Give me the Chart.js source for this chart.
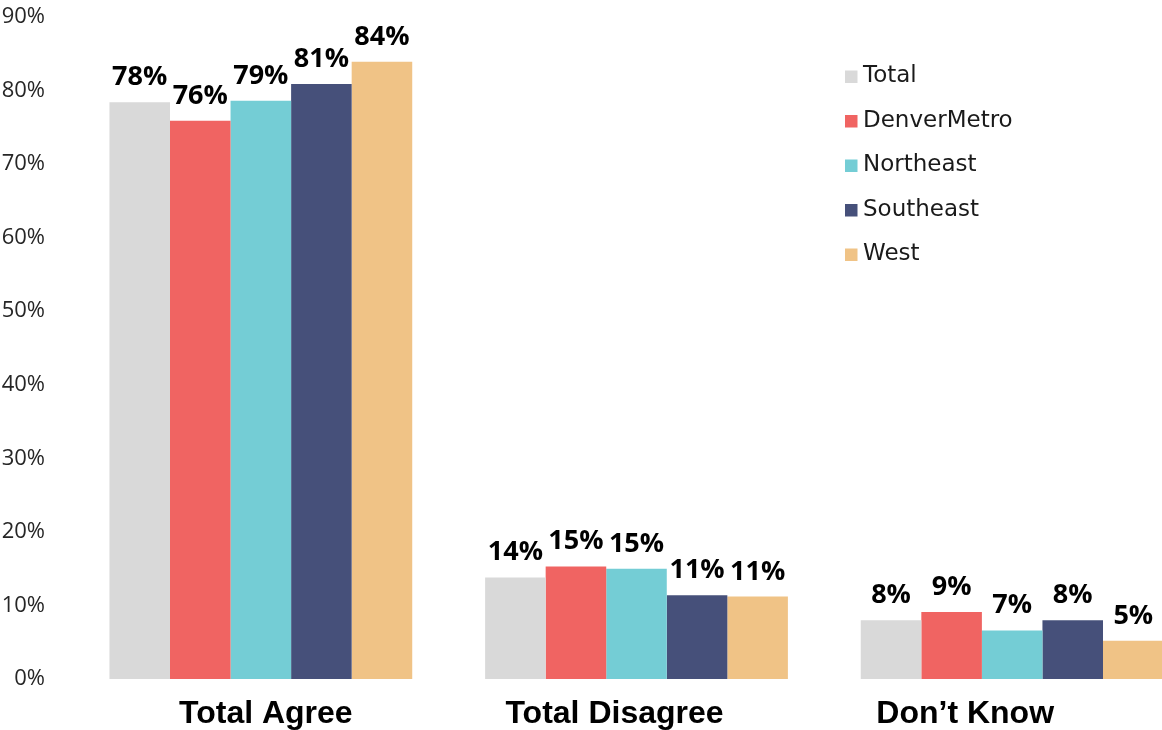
<!DOCTYPE html>
<html>
<head>
<meta charset="utf-8">
<script src="https://cdn.jsdelivr.net/npm/chart.js@4.4.1/dist/chart.umd.min.js"></script>
<style>
  html, body { margin: 0; padding: 0; background: #fff; overflow: hidden; }
  #wrap { width: 1162px; height: 730px; overflow: hidden; }
  #box { width: 1200px; height: 730px; }
</style>
</head>
<body>
<div id="wrap"><div id="box"><canvas id="grafico"></canvas></div></div>
<script>
const categorias = ["Total Agree", "Total Disagree", "Don\u2019t Know"];
const series = ["Total", "DenverMetro", "Northeast", "Southeast", "West"];
const colores = ["#D9D9D9", "#F06462", "#74CDD5", "#46507A", "#F0C386"];
const total = [78.4, 13.8, 8.0];
const denverMetro = [75.9, 15.3, 9.1];
const northeast = [78.6, 15.0, 6.6];
const southeast = [80.9, 11.4, 8.0];
const west = [83.9, 11.2, 5.2];
const valores = [total, denverMetro, northeast, southeast, west];
const ticksY = [0, 10, 20, 30, 40, 50, 60, 70, 80, 90];

// etiquetas de porcentaje encima de cada barra
const etiquetas_barras = {
  id: "etiquetasBarras",
  afterDatasetsDraw: (chart) => {
    const ctx = chart.ctx;
    ctx.save();
    ctx.font = "bold 27px 'Open Sans'";
    ctx.fillStyle = "#000";
    ctx.textAlign = "center";
    ctx.textBaseline = "alphabetic";
    chart.data.datasets.forEach((ds, i) => {
      chart.getDatasetMeta(i).data.forEach((bar, j) => {
        ctx.fillText(Math.round(ds.data[j]) + "%", bar.x, bar.y - 17);
      });
    });
    ctx.restore();
  },
};

// nombres de categoría bajo el eje (algo desplazados, como en el original)
const nombres_categoria = {
  id: "nombresCategoria",
  afterDraw: (chart) => {
    const ctx = chart.ctx;
    const escala = chart.scales.x;
    const desplaz = [5, -22, -47];
    ctx.save();
    ctx.font = "bold 32px 'Liberation Sans', Arial";
    ctx.fillStyle = "#000";
    ctx.textAlign = "center";
    ctx.textBaseline = "alphabetic";
    chart.data.labels.forEach((lab, i) => {
      ctx.fillText(lab, escala.getPixelForValue(i) + desplaz[i], 723);
    });
    ctx.restore();
  },
};

// leyenda vertical dentro del área del gráfico
const leyenda_interna = {
  id: "leyendaInterna",
  afterDraw: (chart) => {
    const ctx = chart.ctx;
    ctx.save();
    ctx.font = "23px 'DejaVu Sans'";
    ctx.textBaseline = "middle";
    ctx.textAlign = "left";
    chart.data.datasets.forEach((ds, i) => {
      const y = 76.5 + i * 44.5;
      ctx.fillStyle = ds.backgroundColor;
      ctx.fillRect(845, y - 6, 12.5, 12.5);
      ctx.fillStyle = "#1a1a1a";
      ctx.fillText(ds.label, 863, y);
    });
    ctx.restore();
  },
};

const ctx = document.getElementById("grafico").getContext("2d");
new Chart(ctx, {
  type: "bar",
  data: {
    labels: categorias,
    datasets: series.map((nombre, i) => ({
      label: nombre,
      data: valores[i],
      backgroundColor: colores[i],
      borderWidth: 0,
      categoryPercentage: 0.806,
      barPercentage: 1.0,
    })),
  },
  options: {
    responsive: true,
    maintainAspectRatio: false,
    animation: false,
    layout: { padding: { top: 17, right: 0, bottom: 0, left: 0 } },
    plugins: {
      legend: { display: false },
      tooltip: { enabled: false },
    },
    scales: {
      x: {
        grid: { display: false },
        border: { display: false },
        ticks: { display: false },
        afterFit: (scale) => {
          scale.height = 51;
          scale.paddingLeft = 0;
          scale.paddingRight = 0;
        },
      },
      y: {
        min: 0,
        max: 90,
        afterBuildTicks: (scale) => {
          scale.ticks = ticksY.map((v) => ({ value: v }));
        },
        grid: { display: false },
        border: { display: false },
        ticks: {
          color: "#262626",
          padding: 20,
          font: { family: "'Open Sans'", size: 22 },
          callback: (v) => v + "%",
        },
        afterFit: (scale) => {
          scale.width = 73;
          scale.paddingTop = 0;
          scale.paddingBottom = 0;
        },
      },
    },
  },
  plugins: [etiquetas_barras, nombres_categoria, leyenda_interna],
});
</script>
</body>
</html>
